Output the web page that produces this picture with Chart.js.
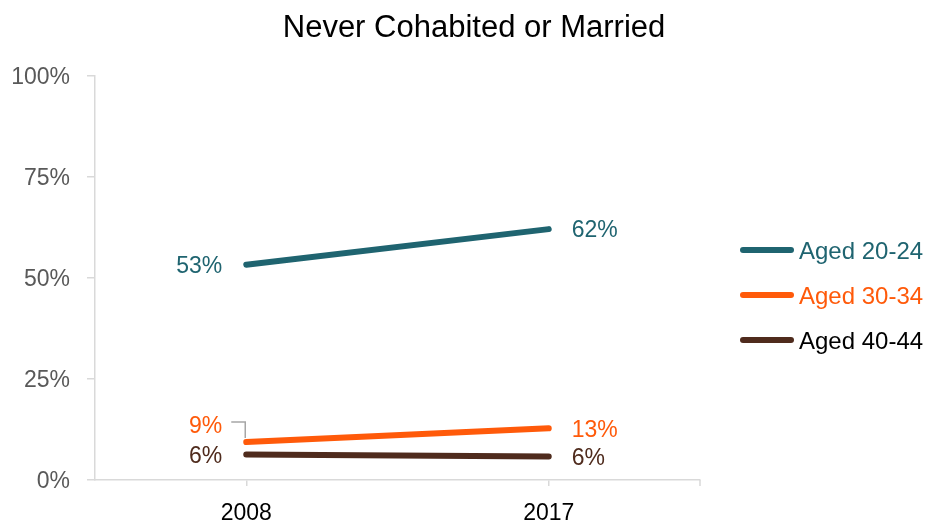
<!DOCTYPE html>
<html>
<head>
<meta charset="utf-8">
<script src="https://cdn.jsdelivr.net/npm/chart.js@4.4.1/dist/chart.umd.min.js"></script>
<style>
  html, body { margin: 0; padding: 0; background: #fff; }
  #wrap { width: 927px; height: 523px; position: relative; }
</style>
</head>
<body>
<div id="wrap"><canvas id="resultChart"></canvas></div>
<script>
// data
const years = ['2008', '2017'];
const seriesNames = ['Aged 20-24', 'Aged 30-34', 'Aged 40-44'];
const aged2024 = [53.3, 62.1];
const aged3034 = [9.4, 12.8];
const aged4044 = [6.3, 5.8];
const yTicks = [0, 25, 50, 75, 100];
const chartTitle = 'Never Cohabited or Married';

const colors = ['#1F6470', '#FF5A0A', '#4F2B1D'];
const legendTextColors = ['#1F6470', '#FF5A0A', '#000000'];
const FONT = '"Liberation Sans", Arial, sans-serif';

// title, value labels and legend drawn on top of the chart
const extrasPlugin = {
    id: 'extras',
    afterDraw(chart) {
        const ctx = chart.ctx;
        const area = chart.chartArea;
        ctx.save();

        // title
        ctx.font = '31px ' + FONT;
        ctx.fillStyle = '#000';
        ctx.textAlign = 'center';
        ctx.textBaseline = 'middle';
        ctx.fillText(chartTitle, 474, 28);

        // end tick of x axis
        ctx.strokeStyle = '#D9D9D9';
        ctx.lineWidth = 1.5;
        ctx.beginPath();
        ctx.moveTo(area.right, area.bottom);
        ctx.lineTo(area.right, area.bottom + 6);
        ctx.stroke();

        // value labels
        ctx.font = '23px ' + FONT;
        chart.data.datasets.forEach((ds, di) => {
            const meta = chart.getDatasetMeta(di);
            meta.data.forEach((pt, i) => {
                const txt = Math.round(ds.data[i]) + '%';
                let y = pt.y + 2;
                let x;
                ctx.fillStyle = ds.borderColor;
                if (i === 0) {
                    ctx.textAlign = 'right';
                    x = pt.x - 24;
                    if (ds.nudgeFirst) {
                        y = pt.y - 15;
                        ctx.strokeStyle = '#A6A6A6';
                        ctx.lineWidth = 1.5;
                        ctx.beginPath();
                        ctx.moveTo(x + 9, pt.y - 20);
                        ctx.lineTo(pt.x - 1, pt.y - 20);
                        ctx.lineTo(pt.x - 1, pt.y - 4);
                        ctx.stroke();
                    }
                } else {
                    ctx.textAlign = 'left';
                    x = pt.x + 23;
                }
                ctx.fillText(txt, x, y);
            });
        });

        // legend
        ctx.font = '24px ' + FONT;
        ctx.textAlign = 'left';
        ctx.lineCap = 'round';
        seriesNames.forEach((name, i) => {
            const y = 250 + i * 45;
            ctx.strokeStyle = colors[i];
            ctx.lineWidth = 6;
            ctx.beginPath();
            ctx.moveTo(743, y);
            ctx.lineTo(791, y);
            ctx.stroke();
            ctx.fillStyle = legendTextColors[i];
            ctx.fillText(name, 799, y + 2);
        });

        ctx.restore();
    }
};

const ctx = document.getElementById('resultChart').getContext('2d');
new Chart(ctx, {
    type: 'line',
    data: {
        labels: years,
        datasets: [
            { label: seriesNames[0], data: aged2024, borderColor: colors[0] },
            { label: seriesNames[1], data: aged3034, borderColor: colors[1], nudgeFirst: true },
            { label: seriesNames[2], data: aged4044, borderColor: colors[2] }
        ].map(ds => Object.assign(ds, {
            borderWidth: 6,
            borderCapStyle: 'round',
            pointRadius: 0,
            pointHoverRadius: 0,
            tension: 0,
            fill: false
        }))
    },
    options: {
        responsive: true,
        maintainAspectRatio: false,
        animation: false,
        layout: { padding: { top: 76, right: 227, left: 0, bottom: 0 } },
        plugins: {
            legend: { display: false },
            title: { display: false },
            tooltip: { enabled: false }
        },
        scales: {
            x: {
                offset: true,
                grid: {
                    display: true,
                    drawOnChartArea: false,
                    offset: false,
                    tickLength: 6,
                    color: '#D9D9D9',
                    lineWidth: 1.5
                },
                border: { color: '#D9D9D9', width: 1.5 },
                ticks: {
                    color: '#000',
                    font: { family: FONT, size: 23 },
                    padding: 14,
                    maxRotation: 0
                },
                afterFit(scale) { scale.height = 43; }
            },
            y: {
                min: 0,
                max: 100,
                afterBuildTicks(scale) { scale.ticks = yTicks.map(v => ({ value: v })); },
                grid: {
                    display: true,
                    drawOnChartArea: false,
                    tickLength: 8,
                    color: '#D9D9D9',
                    lineWidth: 1.5
                },
                border: { color: '#D9D9D9', width: 1.5 },
                ticks: {
                    color: '#595959',
                    font: { family: FONT, size: 23 },
                    padding: 17,
                    labelOffset: 2,
                    callback: v => v + '%'
                },
                afterFit(scale) { scale.width = 95; }
            }
        }
    },
    plugins: [extrasPlugin]
});
</script>
</body>
</html>
